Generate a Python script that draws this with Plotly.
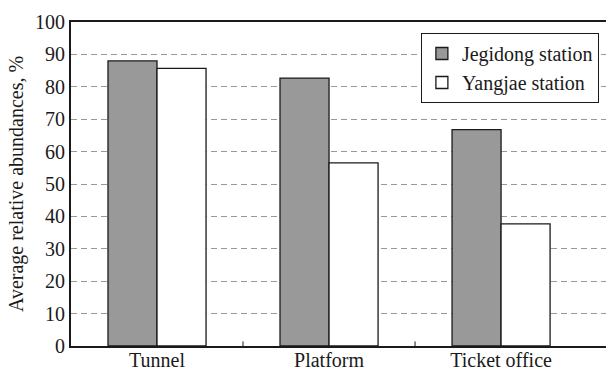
import plotly.graph_objects as go

# Sampling locations and average relative abundances (%) at two stations
locations = ["Tunnel", "Platform", "Ticket office"]
jegidong = [88.0, 82.7, 66.8]
yangjae = [85.7, 56.5, 37.7]
y_ticks = list(range(0, 101, 10))

FONT = "Times New Roman, Liberation Serif, DejaVu Serif, serif"
INK = "#1a1a1a"
FS = 20

fig = go.Figure()
fig.add_trace(go.Bar(
    name="Jegidong station", x=locations, y=jegidong,
    marker=dict(color="#999999", line=dict(color=INK, width=1.3)),
))
fig.add_trace(go.Bar(
    name="Yangjae station", x=locations, y=yangjae,
    marker=dict(color="#ffffff", line=dict(color=INK, width=1.3)),
))

# small inward ticks on the category boundaries
for b in (0.5, 1.5):
    fig.add_shape(type="line", xref="x", yref="y", x0=b, x1=b, y0=0, y1=1.4,
                  line=dict(color=INK, width=1))

fig.update_layout(
    width=606, height=369,
    margin=dict(l=71, r=0, t=22, b=23),
    paper_bgcolor="white", plot_bgcolor="white",
    barmode="group", bargap=0.43, bargroupgap=0,
    font=dict(family=FONT, size=FS, color=INK),
    showlegend=True,
    legend=dict(
        x=0.654, y=0.966, xanchor="left", yanchor="top",
        bgcolor="white", bordercolor=INK, borderwidth=1,
        font=dict(family=FONT, size=FS, color=INK),
        tracegroupgap=0, itemwidth=30,
    ),
    xaxis=dict(
        type="category", range=[-0.5, 2.61],
        showline=True, linecolor=INK, linewidth=2, mirror=True,
        ticks="", showgrid=False, automargin=False,
        ticklabelstandoff=-5,
        tickfont=dict(family=FONT, size=FS, color=INK),
    ),
    yaxis=dict(
        range=[0, 100], tickvals=y_ticks,
        showline=True, linecolor=INK, linewidth=2,
        showgrid=True, gridcolor="#999999", gridwidth=1, griddash="6px,4px",
        ticks="", automargin=False, zeroline=False,
        tickfont=dict(family=FONT, size=FS, color=INK),
        title=dict(text="Average relative abundances, %", standoff=6,
                   font=dict(family=FONT, size=FS, color=INK)),
    ),
)

fig.write_html("out.html")
